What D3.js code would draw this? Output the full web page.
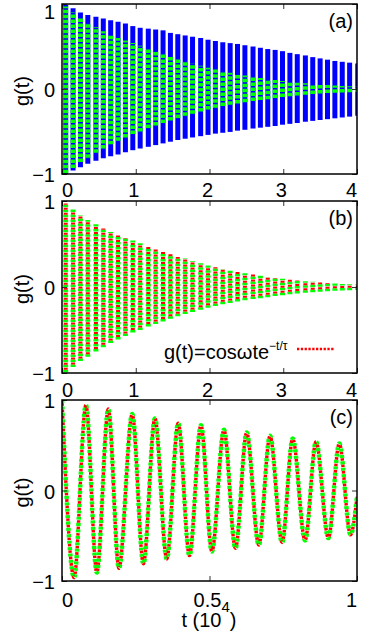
<!DOCTYPE html>
<html>
<head>
<meta charset="utf-8">
<script src="https://cdn.jsdelivr.net/npm/d3@7"></script>
<style>
  body { margin: 0; background: #fff; }
  text { font-family: 'Liberation Sans', Arial, sans-serif; fill: #000; }
</style>
</head>
<body>
<div class="chart"></div>
<script>
// times (10^4) of the dense vertical stripes seen in panels (a) and (b)
const stripeTimes = [0.05, 0.15, 0.25, 0.35, 0.46, 0.56, 0.66, 0.76, 0.86, 0.96,
    1.06, 1.17, 1.27, 1.37, 1.47, 1.57, 1.67, 1.77, 1.88, 1.98,
    2.08, 2.18, 2.28, 2.38, 2.48, 2.59, 2.69, 2.79, 2.89, 2.99,
    3.09, 3.19, 3.30, 3.40, 3.50, 3.60, 3.70, 3.80, 3.90, 4.01];

// blue curve of panel (a): upper and lower extent of each stripe
const blueTop = [0.99, 0.95, 0.90, 0.87, 0.85, 0.83, 0.81, 0.79, 0.77, 0.74,
    0.72, 0.71, 0.70, 0.69, 0.66, 0.645, 0.63, 0.615, 0.60, 0.58,
    0.565, 0.55, 0.54, 0.53, 0.515, 0.50, 0.485, 0.47, 0.46, 0.445,
    0.425, 0.41, 0.395, 0.375, 0.36, 0.345, 0.33, 0.32, 0.31, 0.30];
const blueBottom = [-1.0, -0.96, -0.92, -0.88, -0.845, -0.815, -0.79, -0.77, -0.745, -0.72,
    -0.70, -0.68, -0.66, -0.64, -0.62, -0.60, -0.585, -0.57, -0.555, -0.54,
    -0.525, -0.515, -0.505, -0.49, -0.48, -0.465, -0.455, -0.445, -0.435, -0.42,
    -0.41, -0.40, -0.385, -0.375, -0.365, -0.355, -0.345, -0.335, -0.325, -0.315];

// green data (panels a and b) and red fit (panel b)
const greenTop = [0.97, 0.90, 0.83, 0.78, 0.73, 0.68, 0.64, 0.60, 0.57, 0.54,
    0.51, 0.47, 0.44, 0.41, 0.38, 0.35, 0.33, 0.30, 0.275, 0.25,
    0.23, 0.21, 0.19, 0.175, 0.16, 0.145, 0.13, 0.115, 0.105, 0.095,
    0.085, 0.075, 0.068, 0.06, 0.052, 0.046, 0.04, 0.036, 0.032, 0.03];
const greenBottom = [-0.99, -0.93, -0.86, -0.81, -0.75, -0.70, -0.65, -0.61, -0.57, -0.53,
    -0.50, -0.46, -0.43, -0.40, -0.37, -0.34, -0.315, -0.29, -0.265, -0.24,
    -0.22, -0.20, -0.185, -0.17, -0.155, -0.14, -0.13, -0.12, -0.105, -0.095,
    -0.085, -0.075, -0.068, -0.06, -0.054, -0.048, -0.043, -0.04, -0.037, -0.035];

// panel (c): extrema of the early-time oscillation
const zoomTimes = [0, 0.041, 0.081, 0.118, 0.157, 0.193, 0.238, 0.276, 0.315, 0.355,
    0.394, 0.432, 0.471, 0.508, 0.549, 0.588, 0.626, 0.667, 0.705, 0.746,
    0.782, 0.824, 0.861, 0.903, 0.940, 0.978, 1.0];
const zoomValues = [1.0, -0.963, 0.944, -0.907, 0.90, -0.86, 0.844, -0.81, 0.796, -0.756,
    0.744, -0.72, 0.722, -0.674, 0.67, -0.64, 0.64, -0.604, 0.604, -0.574,
    0.574, -0.552, 0.54, -0.526, 0.52, -0.49, -0.07];

const longTicks = [0, 1, 2, 3, 4];
const shortTicks = [0, 0.5, 1];
const yTicks = [-1, 0, 1];
const panelNames = ['(a)', '(b)', '(c)'];

const width = 382;
const height = 640;
const left = 62;
const right = 357;
const fmt = d3.format('~g');

const svg = d3.select('.chart')
    .append('svg')
    .attr('width', width)
    .attr('height', height);

function drawStripes(g, x, y, top, bottom, color, lineWidth, dash) {
    g.append('g')
        .selectAll('line')
        .data(stripeTimes)
        .enter()
        .append('line')
        .attr('x1', d => x(d))
        .attr('x2', d => x(d))
        .attr('y1', (d, i) => y(bottom[i]))
        .attr('y2', (d, i) => y(top[i]))
        .attr('stroke', color)
        .attr('stroke-width', lineWidth)
        .attr('stroke-dasharray', dash);
}

function drawPanel(index, top, bottom, domain, ticks, labelBase) {
    const x = d3.scaleLinear().domain(domain).range([left, right]);
    const y = d3.scaleLinear().domain([-1, 1]).range([bottom, top]);
    const g = svg.append('g');

    g.append('clipPath')
        .attr('id', 'clip' + index)
        .append('rect')
        .attr('x', left)
        .attr('y', top)
        .attr('width', right - left)
        .attr('height', bottom - top);

    const plot = g.append('g').attr('clip-path', `url(#clip${index})`);

    if (index === 0) {
        drawStripes(plot, x, y, blueTop, blueBottom, '#0000ff', 5, null);
        drawStripes(plot, x, y, greenTop, greenBottom, '#00ff00', 5, '3.5,1.5');
    } else if (index === 1) {
        drawStripes(plot, x, y, greenTop, greenBottom, '#00ff00', 5, '2.5,2.5');
        drawStripes(plot, x, y, greenTop, greenBottom, '#ff0000', 4, '0,2.5,2,0.5');
    } else {
        const points = zoomTimes.map((t, i) => [t, zoomValues[i]]);
        const line = d3.line()
            .x(d => x(d[0]))
            .y(d => y(d[1]))
            .curve(d3.curveMonotoneX);
        plot.append('path')
            .attr('d', line(points))
            .attr('fill', 'none')
            .attr('stroke', '#00ff00')
            .attr('stroke-width', 4.5)
            .attr('stroke-dasharray', '3,3.4');
        plot.append('path')
            .attr('d', line(points))
            .attr('fill', 'none')
            .attr('stroke', '#ff0000')
            .attr('stroke-width', 3.4)
            .attr('stroke-dasharray', '0,3.2,2.6,0.6');
    }

    // inward ticks on all four sides
    const tickStyle = sel => {
        sel.select('.domain').remove();
        sel.selectAll('.tick line').attr('stroke', '#333').attr('stroke-width', 1);
    };
    g.append('g').attr('transform', `translate(0,${bottom})`)
        .call(d3.axisBottom(x).tickValues(ticks).tickSize(-5).tickFormat(''))
        .call(tickStyle);
    g.append('g').attr('transform', `translate(0,${top})`)
        .call(d3.axisTop(x).tickValues(ticks).tickSize(-5).tickFormat(''))
        .call(tickStyle);
    g.append('g').attr('transform', `translate(${left},0)`)
        .call(d3.axisLeft(y).tickValues(yTicks).tickSize(-5).tickFormat(''))
        .call(tickStyle);
    g.append('g').attr('transform', `translate(${right},0)`)
        .call(d3.axisRight(y).tickValues(yTicks).tickSize(-5).tickFormat(''))
        .call(tickStyle);

    g.append('rect')
        .attr('x', left)
        .attr('y', top)
        .attr('width', right - left)
        .attr('height', bottom - top)
        .attr('fill', 'none')
        .attr('stroke', '#000')
        .attr('stroke-width', 1.5);

    // x tick labels, kept inside the frame like the original
    g.append('g')
        .selectAll('text')
        .data(ticks)
        .enter()
        .append('text')
        .attr('y', labelBase)
        .attr('text-anchor', 'middle')
        .style('font-size', '20px')
        .text(d => fmt(d))
        .attr('x', function(d) {
            const half = this.getComputedTextLength() / 2;
            return Math.max(left + half, Math.min(right - half, x(d) - 2));
        });

    // y tick labels; the top one must stay on the page
    g.append('g')
        .selectAll('text')
        .data(yTicks)
        .enter()
        .append('text')
        .attr('x', 55)
        .attr('y', d => Math.max(19, y(d) + 8))
        .attr('text-anchor', 'end')
        .style('font-size', '20px')
        .text(d => fmt(d));

    g.append('text')
        .attr('transform', `translate(29,${(top + bottom) / 2 + 2}) rotate(-90)`)
        .attr('text-anchor', 'middle')
        .style('font-size', '20px')
        .text('g(t)');

    g.append('text')
        .attr('x', 353)
        .attr('y', top + 24)
        .attr('text-anchor', 'end')
        .style('font-size', '20px')
        .text(panelNames[index]);

    return { x, y };
}

drawPanel(0, 4, 174, [0, 4], longTicks, 197);
drawPanel(1, 201, 373, [0, 4], longTicks, 397);
drawPanel(2, 400, 581, [0, 1], shortTicks, 607);

// legend of panel (b)
const legend = svg.append('text')
    .attr('x', 164)
    .attr('y', 359)
    .style('font-size', '20px')
    .text('g(t)=cosωte');
legend.append('tspan')
    .attr('dy', -9)
    .style('font-size', '12px')
    .text('−t/τ');

svg.append('line')
    .attr('x1', 297)
    .attr('x2', 335)
    .attr('y1', 349)
    .attr('y2', 349)
    .attr('stroke', '#ff0000')
    .attr('stroke-width', 2.5)
    .attr('stroke-dasharray', '2.3,1.5');

// x axis title of the bottom panel
const title = svg.append('text')
    .attr('x', 209)
    .attr('y', 627)
    .attr('text-anchor', 'middle')
    .style('font-size', '20px')
    .text('t (10');
title.append('tspan')
    .attr('dy', -15)
    .style('font-size', '15px')
    .text('4');
title.append('tspan')
    .attr('dy', 15)
    .text(')');
</script>
</body>
</html>
